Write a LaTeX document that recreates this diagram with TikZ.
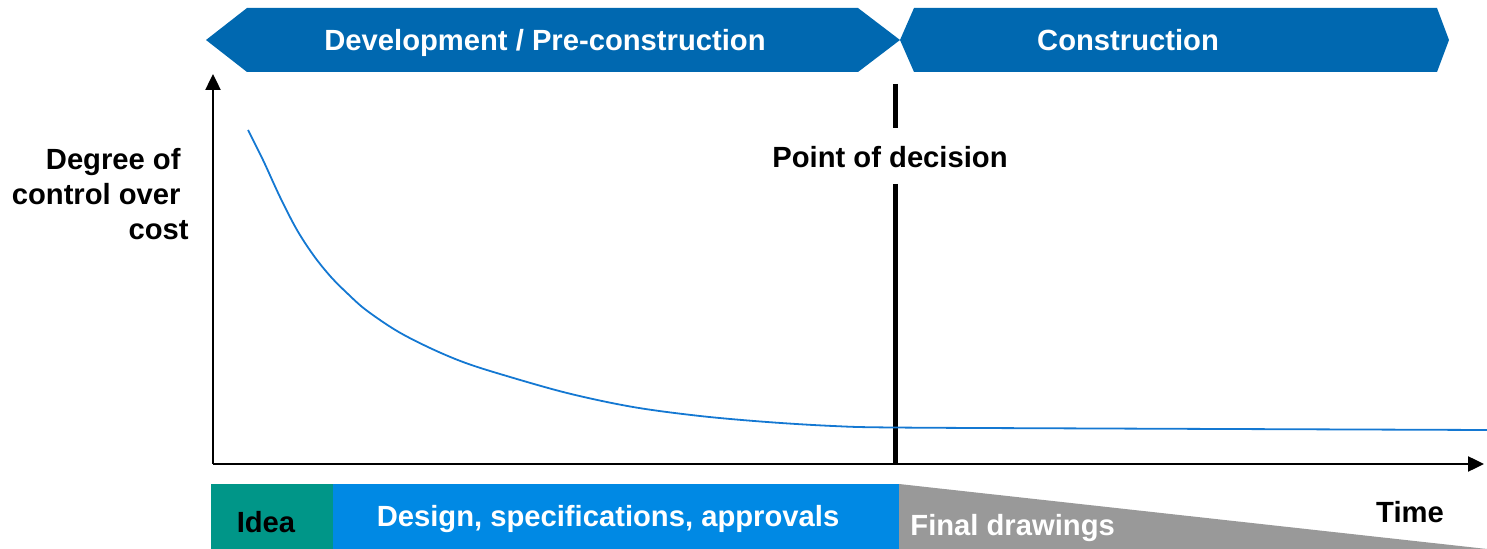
\documentclass[tikz,border=0pt]{standalone}
\usepackage{fontspec}
\setmainfont{Liberation Sans}
\usetikzlibrary{arrows.meta}
\definecolor{phaseblue}{RGB}{0,104,176}
\definecolor{ideateal}{RGB}{0,150,136}
\definecolor{designblue}{RGB}{0,137,228}
\definecolor{finalgray}{RGB}{153,153,153}
\definecolor{curveblue}{RGB}{20,120,210}
\tikzset{
  lbl/.style={font=\fontsize{14.6}{17.5}\selectfont\bfseries, inner sep=0pt, anchor=base},
  wlbl/.style={lbl, text=white},
  axis/.style={line width=1.2pt, -{Triangle[length=8pt,width=7.5pt]}},
  decline/.style={line width=2.5pt},
}
\begin{document}
\begin{tikzpicture}[x=0.5pt,y=-0.5pt]
\useasboundingbox (0,0) rectangle (1487,549);
% phase arrows
\fill[phaseblue] (206,40) -- (247,8) -- (858,8) -- (900,40) -- (858,72) -- (247,72) -- cycle;
\fill[phaseblue] (900,40) -- (914,8) -- (1437,8) -- (1449,40) -- (1437,72) -- (914,72) -- cycle;
\node[wlbl] (dev) at (545,50.5) {Development / Pre-construction};
\node[wlbl] (con) at (1128,50.5) {Construction};
% bottom bars
\fill[ideateal] (211,484) rectangle (333,549);
\fill[designblue] (333,484) rectangle (899,549);
\fill[finalgray] (899,484) -- (1487,549) -- (899,549) -- cycle;
\node[lbl] (idea) at (266,532) {Idea};
\node[wlbl] (design) at (608,526) {Design, specifications, approvals};
\node[wlbl, anchor=base west] (final) at (910,535) {Final drawings};
\node[lbl] (time) at (1410,523) {Time};
% axes
\coordinate (origin) at (213,464);
\coordinate (ytop) at (213,74);
\coordinate (xend) at (1484,464);
\draw[axis] (origin) -- (ytop);
\draw[axis] (origin) -- (xend);
\node[lbl, align=right, anchor=base east] (ylab) at (181,240) {Degree of\\control over\\cost\hspace*{-4pt}};
% point of decision
\node[lbl] (pod) at (890,168) {Point of decision};
\coordinate (podtop) at (895,84);
\coordinate (podbot) at (895,463);
\draw[decline] (podtop) -- (895,128);
\draw[decline] (895,184) -- (podbot);
% curve
\draw[curveblue, line width=0.9pt] plot[smooth, tension=0.55] coordinates {
 (248,130) (263,160) (280,197) (297,230) (314,256) (331,277) (348,294)
 (366,310) (397,331) (430,348) (463,362) (500,374) (567,393) (633,407)
 (700,416) (767,422) (833,426) (893,427.5) (1100,428.5) (1487,430)};
\end{tikzpicture}
\end{document}
